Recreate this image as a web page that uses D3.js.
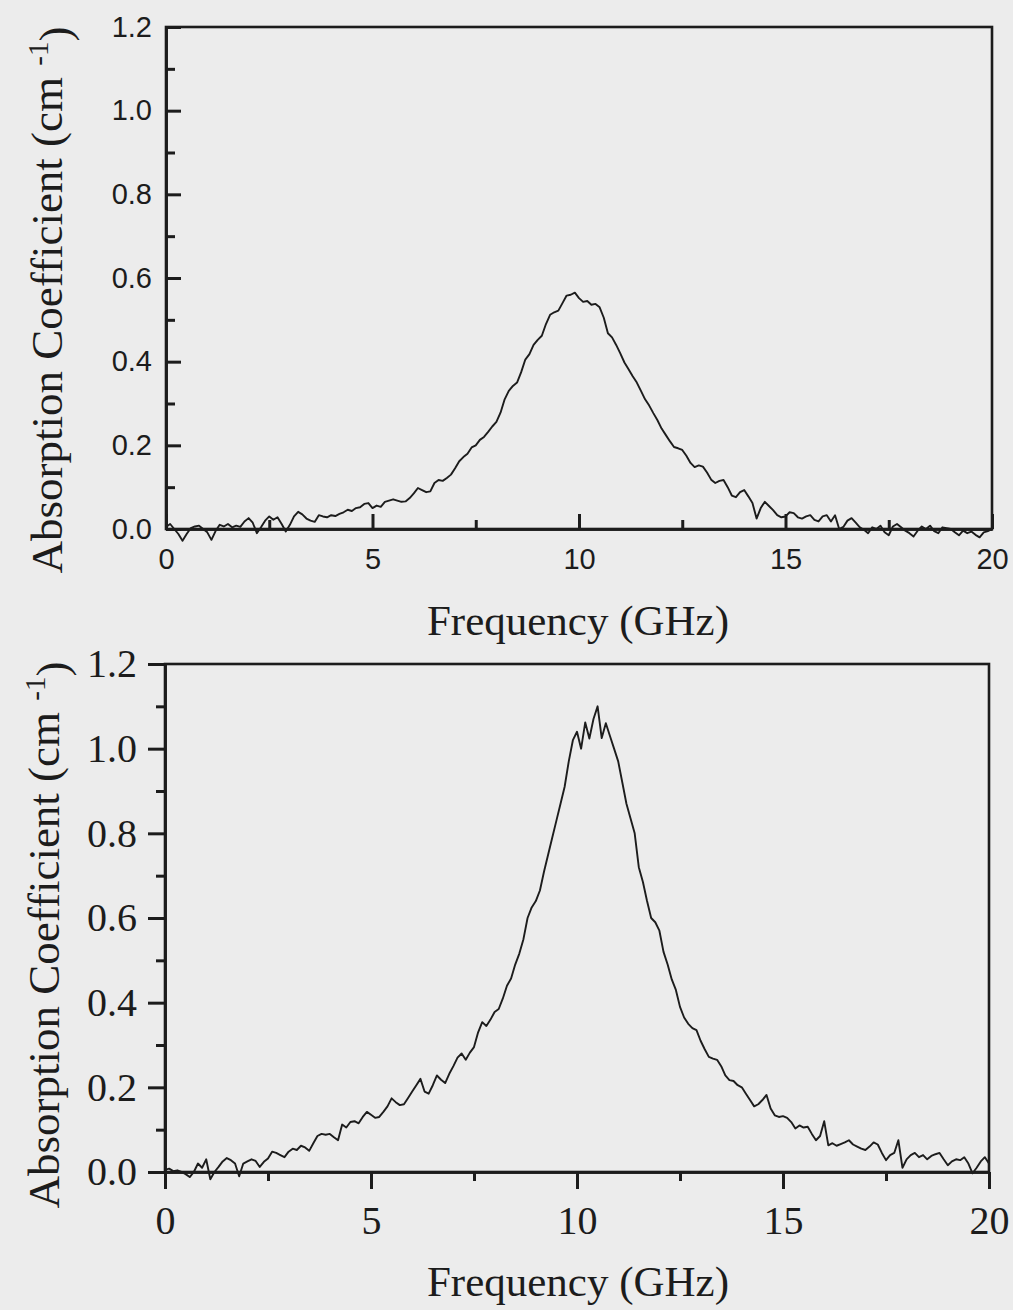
<!DOCTYPE html>
<html>
<head>
<meta charset="utf-8">
<script src="https://cdn.jsdelivr.net/npm/d3@7"></script>
<style>
body { margin: 0; background: #ececec; }
svg { display: block; }
</style>
</head>
<body>
<script>
// frequency grid (GHz), shared by both spectra
var freq = [
  0.0,0.1,0.2,0.3,0.4,0.5,0.6,0.7,0.8,0.9,
  1.0,1.1,1.2,1.3,1.4,1.5,1.6,1.7,1.8,1.9,
  2.0,2.1,2.2,2.3,2.4,2.5,2.6,2.7,2.8,2.9,
  3.0,3.1,3.2,3.3,3.4,3.5,3.6,3.7,3.8,3.9,
  4.0,4.1,4.2,4.3,4.4,4.5,4.6,4.7,4.8,4.9,
  5.0,5.1,5.2,5.3,5.4,5.5,5.6,5.7,5.8,5.9,
  6.0,6.1,6.2,6.3,6.4,6.5,6.6,6.7,6.8,6.9,
  7.0,7.1,7.2,7.3,7.4,7.5,7.6,7.7,7.8,7.9,
  8.0,8.1,8.2,8.3,8.4,8.5,8.6,8.7,8.8,8.9,
  9.0,9.1,9.2,9.3,9.4,9.5,9.6,9.7,9.8,9.9,
  10.0,10.1,10.2,10.3,10.4,10.5,10.6,10.7,10.8,10.9,
  11.0,11.1,11.2,11.3,11.4,11.5,11.6,11.7,11.8,11.9,
  12.0,12.1,12.2,12.3,12.4,12.5,12.6,12.7,12.8,12.9,
  13.0,13.1,13.2,13.3,13.4,13.5,13.6,13.7,13.8,13.9,
  14.0,14.1,14.2,14.3,14.4,14.5,14.6,14.7,14.8,14.9,
  15.0,15.1,15.2,15.3,15.4,15.5,15.6,15.7,15.8,15.9,
  16.0,16.1,16.2,16.3,16.4,16.5,16.6,16.7,16.8,16.9,
  17.0,17.1,17.2,17.3,17.4,17.5,17.6,17.7,17.8,17.9,
  18.0,18.1,18.2,18.3,18.4,18.5,18.6,18.7,18.8,18.9,
  19.0,19.1,19.2,19.3,19.4,19.5,19.6,19.7,19.8,19.9,
  20.0
];

// upper spectrum, absorption coefficient (cm^-1)
var absTop = [
  0.005,0.012,0.0,-0.012,-0.028,-0.012,0.002,0.006,0.008,0.0,
  -0.008,-0.026,-0.005,0.01,0.006,0.012,0.004,0.008,0.005,0.018,
  0.026,0.015,-0.01,0.004,0.02,0.03,0.022,0.028,0.012,-0.006,
  0.01,0.03,0.041,0.035,0.025,0.02,0.017,0.033,0.03,0.028,
  0.033,0.031,0.036,0.04,0.046,0.043,0.05,0.052,0.06,0.062,
  0.05,0.056,0.053,0.065,0.068,0.071,0.068,0.065,0.066,0.074,
  0.085,0.098,0.093,0.088,0.09,0.11,0.117,0.115,0.122,0.13,
  0.145,0.162,0.172,0.18,0.195,0.2,0.213,0.22,0.232,0.245,
  0.256,0.278,0.31,0.33,0.342,0.35,0.375,0.405,0.418,0.44,
  0.452,0.462,0.49,0.512,0.518,0.522,0.54,0.558,0.56,0.565,
  0.552,0.543,0.545,0.536,0.538,0.53,0.505,0.468,0.458,0.44,
  0.42,0.398,0.382,0.365,0.35,0.33,0.31,0.295,0.277,0.26,
  0.24,0.225,0.21,0.196,0.193,0.189,0.175,0.158,0.148,0.152,
  0.149,0.135,0.118,0.11,0.115,0.117,0.1,0.08,0.076,0.088,
  0.093,0.078,0.062,0.025,0.05,0.065,0.055,0.045,0.033,0.028,
  0.03,0.04,0.038,0.028,0.025,0.03,0.033,0.022,0.018,0.03,
  0.033,0.018,0.033,0.0,0.005,0.02,0.026,0.015,0.004,-0.002,
  -0.01,0.004,0.0,0.008,-0.008,-0.015,0.006,0.012,0.004,-0.004,
  -0.01,-0.018,-0.004,0.006,0.0,0.008,-0.005,-0.01,0.004,0.002,
  0.0,-0.008,-0.015,-0.004,-0.01,-0.006,-0.014,-0.02,-0.008,-0.005,
  0.0
];

// lower spectrum, absorption coefficient (cm^-1)
var absBottom = [
  0.005,0.008,0.002,0.004,0.0,-0.005,-0.012,0.0,0.02,0.01,
  0.03,-0.017,0.0,0.012,0.025,0.033,0.028,0.02,-0.01,0.02,
  0.025,0.03,0.026,0.012,0.024,0.032,0.048,0.045,0.04,0.035,
  0.048,0.055,0.052,0.062,0.058,0.05,0.068,0.085,0.09,0.088,
  0.09,0.082,0.075,0.112,0.105,0.118,0.12,0.115,0.13,0.142,
  0.135,0.128,0.13,0.142,0.155,0.174,0.165,0.158,0.16,0.175,
  0.19,0.205,0.22,0.19,0.185,0.205,0.228,0.218,0.21,0.232,
  0.25,0.27,0.28,0.265,0.282,0.295,0.33,0.354,0.345,0.36,
  0.378,0.385,0.41,0.44,0.457,0.49,0.516,0.55,0.6,0.625,
  0.64,0.665,0.71,0.75,0.79,0.83,0.87,0.91,0.97,1.02,
  1.04,1.0,1.062,1.024,1.07,1.1,1.025,1.06,1.03,1.0,
  0.97,0.92,0.87,0.835,0.8,0.72,0.685,0.64,0.6,0.59,
  0.57,0.52,0.49,0.455,0.43,0.39,0.365,0.35,0.34,0.335,
  0.31,0.29,0.272,0.268,0.265,0.25,0.228,0.217,0.215,0.205,
  0.2,0.185,0.17,0.155,0.16,0.17,0.182,0.15,0.134,0.13,
  0.132,0.128,0.118,0.103,0.11,0.105,0.107,0.09,0.075,0.085,
  0.12,0.063,0.068,0.062,0.066,0.07,0.075,0.065,0.06,0.055,
  0.052,0.06,0.07,0.065,0.045,0.028,0.04,0.045,0.075,0.01,
  0.03,0.04,0.045,0.035,0.04,0.03,0.038,0.042,0.045,0.03,
  0.016,0.025,0.03,0.028,0.035,0.02,-0.003,0.01,0.025,0.035,
  0.02
];

var xTicks = [0, 5, 10, 15, 20];
var xMinorTicks = [2.5, 7.5, 12.5, 17.5];
var yTicks = [0, 0.2, 0.4, 0.6, 0.8, 1.0, 1.2];
var yMinorTicks = [0.1, 0.3, 0.5, 0.7, 0.9, 1.1];

var W = 1013, H = 1310;
var ink = "#1c1c1c";
var serif = "'Liberation Serif', 'Times New Roman', serif";

var svg = d3.select("body").append("svg")
    .attr("width", W)
    .attr("height", H);

svg.append("rect").attr("width", W).attr("height", H).attr("fill", "#ececec");

//draws one panel; the top one has sans labels and inward ticks,
//the bottom one serif labels and outward ticks
function drawPanel(p, values) {
    var x = d3.scaleLinear().domain([0, 20]).range([p.left, p.right]);
    var y = d3.scaleLinear().domain([0, 1.2]).range([p.bottom, p.top]);
    var g = svg.append("g");
    var dir = p.inward ? -1 : 1;

    //frame
    g.append("rect")
        .attr("x", p.left).attr("y", p.top)
        .attr("width", p.right - p.left).attr("height", p.bottom - p.top)
        .attr("fill", "none").attr("stroke", ink).attr("stroke-width", 2.6);

    var xAxis = d3.axisBottom(x).tickValues(xTicks).tickFormat(d3.format("d"))
        .tickSizeInner(dir * p.major).tickSizeOuter(0).tickPadding(p.xPad);
    var xMinor = d3.axisBottom(x).tickValues(xMinorTicks).tickFormat("")
        .tickSizeInner(dir * p.minor).tickSizeOuter(0);
    var yAxis = d3.axisLeft(y).tickValues(yTicks).tickFormat(d3.format(".1f"))
        .tickSizeInner(dir * p.major).tickSizeOuter(0).tickPadding(p.yPad);
    var yMinor = d3.axisLeft(y).tickValues(yMinorTicks).tickFormat("")
        .tickSizeInner(dir * p.minor).tickSizeOuter(0);

    [[xAxis, "translate(0," + p.bottom + ")"], [xMinor, "translate(0," + p.bottom + ")"],
     [yAxis, "translate(" + p.left + ",0)"], [yMinor, "translate(" + p.left + ",0)"]]
    .forEach(function(a) {
        var ax = g.append("g").attr("transform", a[1]).call(a[0]);
        ax.select(".domain").attr("stroke", ink).attr("stroke-width", 2.6);
        ax.selectAll(".tick line").attr("stroke", ink).attr("stroke-width", 3);
        ax.selectAll(".tick text")
            .attr("fill", ink)
            .style("font-family", p.font)
            .style("font-size", p.fontSize + "px");
    });

    //spectrum
    var line = d3.line()
        .x(function(d, i) { return x(freq[i]); })
        .y(function(d) { return y(d); });
    g.append("path")
        .datum(values)
        .attr("d", line)
        .attr("fill", "none")
        .attr("stroke", ink)
        .attr("stroke-width", 1.9)
        .attr("stroke-linejoin", "round");

    //axis titles, always serif
    g.append("text")
        .attr("x", 578)
        .attr("y", p.xTitleY)
        .attr("text-anchor", "middle")
        .attr("fill", ink)
        .style("font-family", serif)
        .style("font-size", "43px")
        .text("Frequency (GHz)");

    var yt = g.append("text")
        .attr("transform", "translate(" + p.yTitleX + "," + p.yTitleY + ") rotate(-90)")
        .attr("text-anchor", "middle")
        .attr("fill", ink)
        .style("font-family", serif)
        .style("font-size", "45px");
    yt.append("tspan").text("Absorption Coefficient (cm ");
    yt.append("tspan").attr("dy", "-0.5em").style("font-size", "29px").text("-1");
    yt.append("tspan").attr("dy", "0.5em").text(")");
}

drawPanel({
    left: 166, right: 992, top: 27, bottom: 529,
    inward: true, major: 15, minor: 9, xPad: 19, yPad: 14,
    font: "'Liberation Sans', Arial, sans-serif", fontSize: 29,
    xTitleY: 635, yTitleX: 62, yTitleY: 300
}, absTop);

drawPanel({
    left: 165, right: 989, top: 664, bottom: 1172,
    inward: false, major: 17, minor: 9, xPad: 17, yPad: 11,
    font: serif, fontSize: 40,
    xTitleY: 1296, yTitleX: 59, yTitleY: 935
}, absBottom);
</script>
</body>
</html>
